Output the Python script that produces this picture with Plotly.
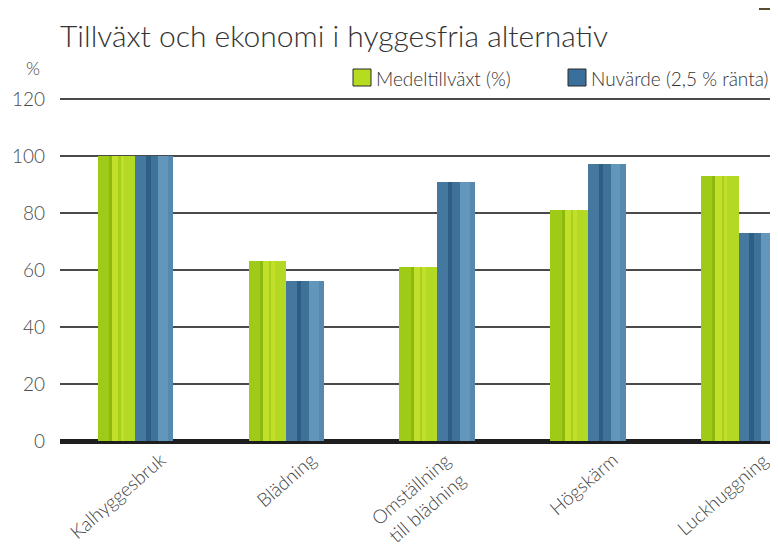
import plotly.graph_objects as go

categories = ["Kalhyggesbruk", "Blädning", "Omställning<br>till blädning", "Högskärm", "Luckhuggning"]
medeltillvaxt = [100, 63, 61, 81, 93]
nuvarde = [100, 56, 91, 97, 73]
series_names = ["Medeltillväxt (%)", "Nuvärde (2,5 % ränta)"]
y_ticks = [0, 20, 40, 60, 80, 100, 120]

FONT = "Lato"
# page body has an 8px margin; figure is sized so it ends at the window edge
OFF = 8
FW, FH = 770, 544
ML, MR, MT, MB = 52, 0, 88, 111
PW, PH = FW - ML - MR, FH - MT - MB


def px(sx):  # screen x -> paper x
    return (sx - OFF - ML) / PW


def py(sy):  # screen y -> paper y
    return (FH - MB - (sy - OFF)) / PH


x = list(range(len(categories)))
W = 0.25

fig = go.Figure()


def add_bar(vals, offset, width, color, name=""):
    fig.add_trace(go.Bar(
        x=x, y=vals, offset=offset, width=width,
        marker=dict(color=color, line=dict(width=0)),
        name=name, showlegend=False,
        hoverinfo="skip" if not name else None,
    ))


# main bars
add_bar(medeltillvaxt, -W, W, "#a8d21e", series_names[0])
add_bar(nuvarde, 0, W, "#4a7ea8", series_names[1])

# decorative shading stripes (green)
add_bar(medeltillvaxt, -W + 0.000, 0.075, "#9fcb18")
add_bar(medeltillvaxt, -W + 0.075, 0.020, "#8bb90e")
add_bar(medeltillvaxt, -W + 0.095, 0.080, "#c2df2a")
add_bar(medeltillvaxt, -W + 0.140, 0.012, "#a6d01c")
add_bar(medeltillvaxt, -W + 0.175, 0.075, "#b4d924")
# decorative shading stripes (blue)
add_bar(nuvarde, 0.000, 0.070, "#44789f")
add_bar(nuvarde, 0.070, 0.030, "#2e5e86")
add_bar(nuvarde, 0.100, 0.050, "#3f7299")
add_bar(nuvarde, 0.150, 0.100, "#6396bb")
add_bar(nuvarde, 0.215, 0.035, "#5689b0")

fig.update_layout(
    barmode="overlay",
    width=FW, height=FH,
    margin=dict(l=ML, r=MR, t=MT, b=MB, pad=0),
    paper_bgcolor="white", plot_bgcolor="white",
    font=dict(family=FONT, color="#444444", size=15),
    title=dict(
        text="Tillväxt och ekonomi i hyggesfria alternativ",
        x=(60 - OFF) / FW, xanchor="left", xref="container",
        y=1 - (36 - OFF) / FH, yanchor="middle", yref="container",
        font=dict(family=FONT, size=30, color="#333333", weight=300),
    ),
    showlegend=False,
    xaxis=dict(
        range=[-0.5, 4.26],
        tickmode="array", tickvals=x, ticktext=[""] * len(x),
        showgrid=False, zeroline=False, showline=False, ticks="",
    ),
    yaxis=dict(
        range=[0, 121],
        tickmode="array", tickvals=y_ticks,
        showgrid=True, gridcolor="#4a4a4a", gridwidth=1.5,
        zeroline=True, zerolinecolor="#1e1e1e", zerolinewidth=4.5,
        showline=False, ticks="", ticklabelstandoff=14,
        tickfont=dict(family=FONT, size=19, color="#4a4a4a", weight=300),
    ),
    bargap=0,
)

# category labels, rotated, end of text near the group
for i, lab in enumerate(categories):
    fig.add_annotation(
        text=lab, x=i, y=0, xref="x", yref="y",
        xanchor="right", yanchor="top", xshift=37, yshift=-4,
        textangle=-41, showarrow=False,
        font=dict(family=FONT, size=19, color="#444444", weight=300),
    )

# "%" unit label
fig.add_annotation(text="%", xref="paper", yref="paper",
                   x=px(33), y=py(68), xanchor="center", yanchor="middle",
                   showarrow=False, font=dict(family=FONT, size=18, color="#444444", weight=300))

# manual legend
legend_items = [(353, "#b5dc1e", series_names[0]), (568, "#3a6f9c", series_names[1])]
for sx, col, name in legend_items:
    fig.add_shape(type="rect", xref="paper", yref="paper",
                  x0=px(sx), x1=px(sx + 18), y0=py(86), y1=py(69),
                  fillcolor=col, line=dict(color="#2a2a2a", width=1))
    fig.add_annotation(text=name, xref="paper", yref="paper",
                       x=px(sx + 21), y=py(78), xanchor="left", yanchor="middle",
                       showarrow=False, font=dict(family=FONT, size=19, color="#333333", weight=300))

# small mark at the top right corner
fig.add_shape(type="line", xref="paper", yref="paper",
              x0=px(759), x1=px(778), y0=py(9), y1=py(9),
              line=dict(color="#5a4a30", width=2))

fig.write_html("out.html")
